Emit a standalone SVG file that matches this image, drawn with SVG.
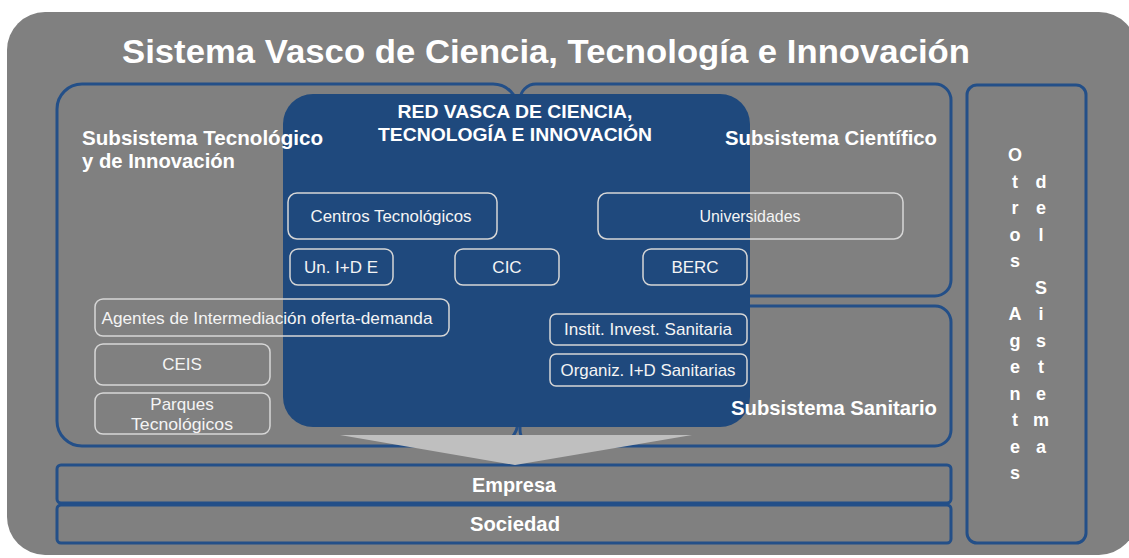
<svg xmlns="http://www.w3.org/2000/svg" width="1129" height="558" viewBox="0 0 1129 558">
<style>
text{font-family:"Liberation Sans",Arial,sans-serif;fill:#FFFFFF}
.sub{fill:none;stroke:#234F88;stroke-width:3}
.inner{fill:none;stroke:#D6D6D6;stroke-width:1.5}
.big{font-size:20px;font-weight:bold}
.lbl{font-size:17px;text-anchor:middle;fill:#F4F4F4}
.red{font-size:18px;font-weight:bold;text-anchor:middle}
.bar{font-size:20px;font-weight:bold;text-anchor:middle}
.vt{font-size:18px;font-weight:bold;text-anchor:middle}
</style>
<rect x="7" y="12" width="1130" height="543" rx="38" fill="#808080"/>
<text x="546" y="63" font-size="34" font-weight="bold" text-anchor="middle" textLength="848" lengthAdjust="spacingAndGlyphs">Sistema Vasco de Ciencia, Tecnología e Innovación</text>

<g id="subsistema-tecnologico"><rect class="sub" x="57" y="84" width="461" height="362" rx="25"/></g>
<g id="subsistema-cientifico"><rect class="sub" x="520" y="84" width="431" height="212" rx="16"/></g>
<g id="subsistema-sanitario"><rect class="sub" x="520" y="306" width="431" height="140" rx="16"/></g>
<g id="otros-agentes">
<rect class="sub" x="967" y="85" width="119" height="458" rx="10"/>
<text class="vt"><tspan x="1015" y="161">O</tspan><tspan x="1015" y="187.5">t</tspan><tspan x="1015" y="214">r</tspan><tspan x="1015" y="240.5">o</tspan><tspan x="1015" y="267">s</tspan><tspan x="1015" y="320">A</tspan><tspan x="1015" y="346.5">g</tspan><tspan x="1015" y="373">e</tspan><tspan x="1015" y="399.5">n</tspan><tspan x="1015" y="426">t</tspan><tspan x="1015" y="452.5">e</tspan><tspan x="1015" y="479">s</tspan></text>
<text class="vt"><tspan x="1041" y="187.5">d</tspan><tspan x="1041" y="214">e</tspan><tspan x="1041" y="240.5">l</tspan><tspan x="1041" y="293.5">S</tspan><tspan x="1041" y="320">i</tspan><tspan x="1041" y="346.5">s</tspan><tspan x="1041" y="373">t</tspan><tspan x="1041" y="399.5">e</tspan><tspan x="1041" y="426">m</tspan><tspan x="1041" y="452.5">a</tspan></text>
</g>
<g id="empresa"><rect class="sub" x="57" y="465" width="894" height="38" rx="4"/><text class="bar" x="514" y="492" textLength="84" lengthAdjust="spacingAndGlyphs">Empresa</text></g>
<g id="sociedad"><rect class="sub" x="57" y="505" width="894" height="38" rx="4"/><text class="bar" x="515" y="531" textLength="90" lengthAdjust="spacingAndGlyphs">Sociedad</text></g>

<g id="red-vasca">
<rect x="283" y="94" width="467" height="333" rx="30" fill="#1F497D"/>
<text class="red" x="515" y="118" textLength="235" lengthAdjust="spacingAndGlyphs">RED VASCA DE CIENCIA,</text>
<text class="red" x="515" y="141" textLength="274" lengthAdjust="spacingAndGlyphs">TECNOLOGÍA E INNOVACIÓN</text>
</g>

<text class="big" x="82" y="145" textLength="241" lengthAdjust="spacingAndGlyphs">Subsistema Tecnológico</text>
<text class="big" x="82" y="168" textLength="153" lengthAdjust="spacingAndGlyphs">y de Innovación</text>
<text class="big" x="937" y="145" text-anchor="end" textLength="212" lengthAdjust="spacingAndGlyphs">Subsistema Científico</text>
<text class="big" x="937" y="415" text-anchor="end" textLength="206" lengthAdjust="spacingAndGlyphs">Subsistema Sanitario</text>

<g id="centros-tecnologicos"><rect class="inner" x="288" y="193" width="209" height="46" rx="9"/><text class="lbl" x="391" y="222" textLength="161" lengthAdjust="spacingAndGlyphs">Centros Tecnológicos</text></g>
<g id="universidades"><rect class="inner" x="598" y="193" width="305" height="46" rx="9"/><text class="lbl" x="750" y="222" textLength="101" lengthAdjust="spacingAndGlyphs">Universidades</text></g>
<g id="un-ide"><rect class="inner" x="290" y="249" width="103" height="36" rx="8"/><text class="lbl" x="341" y="273" textLength="74" lengthAdjust="spacingAndGlyphs">Un. I+D E</text></g>
<g id="cic"><rect class="inner" x="455" y="249" width="104" height="36" rx="8"/><text class="lbl" x="507" y="273">CIC</text></g>
<g id="berc"><rect class="inner" x="643" y="249" width="104" height="36" rx="8"/><text class="lbl" x="695" y="273">BERC</text></g>
<g id="agentes-intermediacion"><rect class="inner" x="95" y="299" width="354" height="37" rx="8"/><text class="lbl" x="267" y="324" textLength="331" lengthAdjust="spacingAndGlyphs">Agentes de Intermediación oferta-demanda</text></g>
<g id="ceis"><rect class="inner" x="95" y="344" width="175" height="41" rx="8"/><text class="lbl" x="182" y="370">CEIS</text></g>
<g id="parques"><rect class="inner" x="95" y="393" width="175" height="41" rx="8"/><text class="lbl" x="182" y="410">Parques</text><text class="lbl" x="182" y="430" textLength="102" lengthAdjust="spacingAndGlyphs">Tecnológicos</text></g>
<g id="instit-invest"><rect class="inner" x="550" y="314" width="197" height="31" rx="6"/><text class="lbl" x="648" y="335" textLength="168" lengthAdjust="spacingAndGlyphs">Instit. Invest. Sanitaria</text></g>
<g id="organiz-id"><rect class="inner" x="550" y="354" width="197" height="32" rx="6"/><text class="lbl" x="648" y="376" textLength="175" lengthAdjust="spacingAndGlyphs">Organiz. I+D Sanitarias</text></g>

<g id="connectors"><polygon points="340,435 692,435 515,465" fill="#BFBFBF"/></g>
</svg>
